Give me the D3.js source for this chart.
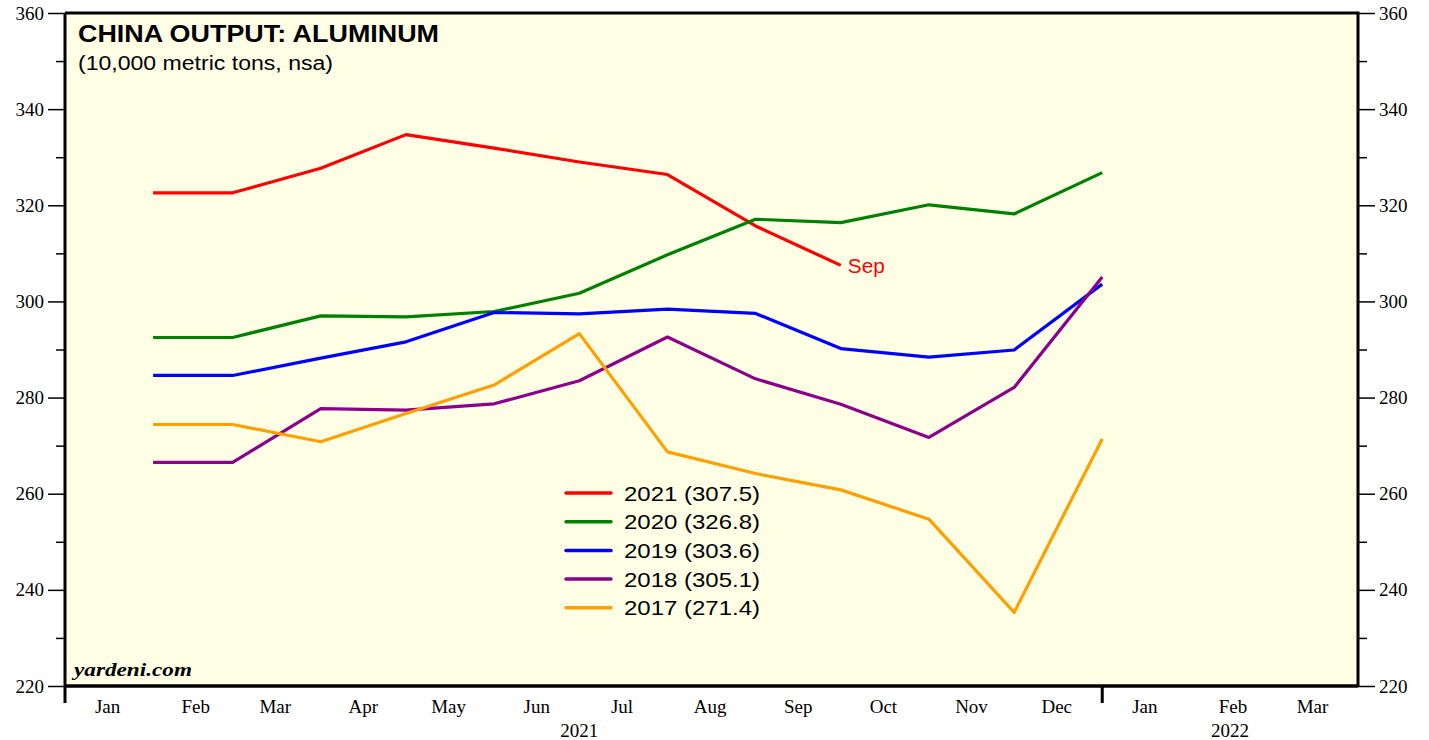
<!DOCTYPE html>
<html><head><meta charset="utf-8">
<script src="https://cdn.jsdelivr.net/npm/d3@7"></script>
<style>body{margin:0;background:#fff}svg{display:block}</style>
</head><body><svg id="c" width="1429" height="740"></svg>
<script>
const months = ["Jan","Feb","Mar","Apr","May","Jun","Jul","Aug","Sep","Oct","Nov","Dec"];
const axisMonths = ["Jan","Feb","Mar","Apr","May","Jun","Jul","Aug","Sep","Oct","Nov","Dec","Jan","Feb","Mar"];
const yearLabels = ["2021","2022"];
const yTicks = [220,240,260,280,300,320,340,360];
const seriesNames = ["2021","2020","2019","2018","2017"];
const seriesColors = ["#ff0000","#008000","#0000ff","#8b008b","#ffa000"];
const v2021 = [322.6,322.6,327.7,334.7,331.9,329.0,326.4,315.7,307.5];
const v2020 = [292.5,292.5,297.0,296.8,297.9,301.7,309.7,317.1,316.4,320.1,318.2,326.8];
const v2019 = [284.6,284.6,288.2,291.6,297.7,297.4,298.4,297.5,290.2,288.4,289.9,303.6];
const v2018 = [266.5,266.5,277.7,277.4,278.7,283.5,292.6,283.9,278.6,271.7,282.1,305.1];
const v2017 = [274.4,274.4,270.8,276.7,282.6,293.3,268.7,264.2,260.8,254.7,235.3,271.4];
const seriesValues = [v2021,v2020,v2019,v2018,v2017];

const svg = d3.select("#c");
const L=65, R=1358, T=13, B=686;
const x = d3.scaleTime().domain([new Date(2021,0,1), new Date(2022,3,1)]).range([L,R]);
const y = d3.scaleLinear().domain([220,360]).range([B,T]);
const SERIF = "Liberation Serif, Times New Roman, serif";
const SANS = "Liberation Sans, Arial, sans-serif";

svg.append("rect").attr("x",L).attr("y",T).attr("width",R-L).attr("height",B-T).attr("fill","#ffffe6");

function yAxis(side, at){
  const ax = side==="left" ? d3.axisLeft(y) : d3.axisRight(y);
  const g = svg.append("g").attr("transform",`translate(${at},0)`)
    .call(ax.tickValues(yTicks).tickSize(17).tickPadding(4).tickFormat(d3.format("d")));
  g.select(".domain").remove();
  g.selectAll(".tick line").attr("stroke","#000").attr("stroke-width",1.5);
  g.selectAll("text").attr("font-family",SERIF).attr("font-size",19).attr("fill","#000");
  const axm = side==="left" ? d3.axisLeft(y) : d3.axisRight(y);
  const gm = svg.append("g").attr("transform",`translate(${at},0)`)
    .call(axm.tickValues(d3.range(230,360,20)).tickSize(9).tickFormat(""));
  gm.select(".domain").remove();
  gm.selectAll(".tick line").attr("stroke","#000").attr("stroke-width",1.5);
}
yAxis("left", L);
yAxis("right", R);

// Bottom month labels
const monthMid = axisMonths.map((m,i)=>new Date(2021, i, 16));
svg.append("g").selectAll("text").data(axisMonths).join("text")
  .attr("x",(d,i)=>x(monthMid[i])).attr("y",713).attr("text-anchor","middle")
  .attr("font-family",SERIF).attr("font-size",19).attr("fill","#000")
  .text(d=>d);
const yearPos = [new Date(2021,6,1), new Date(2022,1,15)];
svg.append("g").selectAll("text").data(yearLabels).join("text")
  .attr("x",(d,i)=>x(yearPos[i])).attr("y",737).attr("text-anchor","middle")
  .attr("font-family",SERIF).attr("font-size",19).attr("fill","#000")
  .text(d=>d);
svg.append("line").attr("x1",x(new Date(2022,0,1))).attr("x2",x(new Date(2022,0,1))).attr("y1",B).attr("y2",703)
  .attr("stroke","#000").attr("stroke-width",3);

// Lines
const line = d3.line().x((d,i)=>x(new Date(2021,i+1,1))).y(d=>y(d));
seriesValues.forEach((vals,k)=>{
  svg.append("path").datum(vals).attr("d",line).attr("fill","none")
    .attr("stroke",seriesColors[k]).attr("stroke-width",3.2).attr("stroke-linejoin","round");
});
svg.append("text").attr("x",x(new Date(2021,9,1))+7).attr("y",y(v2021[v2021.length-1])+8)
  .attr("font-family",SANS).attr("font-size",20).attr("fill","#ff0000")
  .attr("textLength",37).attr("lengthAdjust","spacingAndGlyphs")
  .text(months[v2021.length-1]);

// Frame
svg.append("path").attr("d",`M${L},${T}H${R}V${B}`).attr("fill","none").attr("stroke","#000").attr("stroke-width",3);
svg.append("line").attr("x1",L).attr("x2",R).attr("y1",B).attr("y2",B).attr("stroke","#000").attr("stroke-width",3.5);
svg.append("line").attr("x1",L).attr("x2",L).attr("y1",T).attr("y2",703).attr("stroke","#000").attr("stroke-width",3);

// Titles
svg.append("text").attr("x",78).attr("y",42).attr("font-family",SANS)
  .attr("font-size",24).attr("font-weight","bold").attr("fill","#000")
  .attr("textLength",361).attr("lengthAdjust","spacingAndGlyphs").text("CHINA OUTPUT: ALUMINUM");
svg.append("text").attr("x",78).attr("y",70).attr("font-family",SANS)
  .attr("font-size",20).attr("fill","#000")
  .attr("textLength",255).attr("lengthAdjust","spacingAndGlyphs").text("(10,000 metric tons, nsa)");
svg.append("text").attr("x",74).attr("y",676).attr("font-family",SERIF)
  .attr("font-size",19).attr("font-weight","bold").attr("font-style","italic").attr("fill","#000")
  .attr("textLength",118).attr("lengthAdjust","spacingAndGlyphs").text("yardeni.com");

// Legend
const leg = svg.append("g");
seriesNames.forEach((n,k)=>{
  const ly = 493 + k*28.7;
  leg.append("line").attr("x1",566).attr("x2",611).attr("y1",ly).attr("y2",ly)
    .attr("stroke",seriesColors[k]).attr("stroke-width",3.5).attr("stroke-linecap","round");
  const vals = seriesValues[k];
  leg.append("text").attr("x",624).attr("y",ly+7.5).attr("font-family",SANS)
    .attr("font-size",21).attr("fill","#000")
    .attr("textLength",136).attr("lengthAdjust","spacingAndGlyphs")
    .text(`${n} (${vals[vals.length-1].toFixed(1)})`);
});
</script></body></html>
